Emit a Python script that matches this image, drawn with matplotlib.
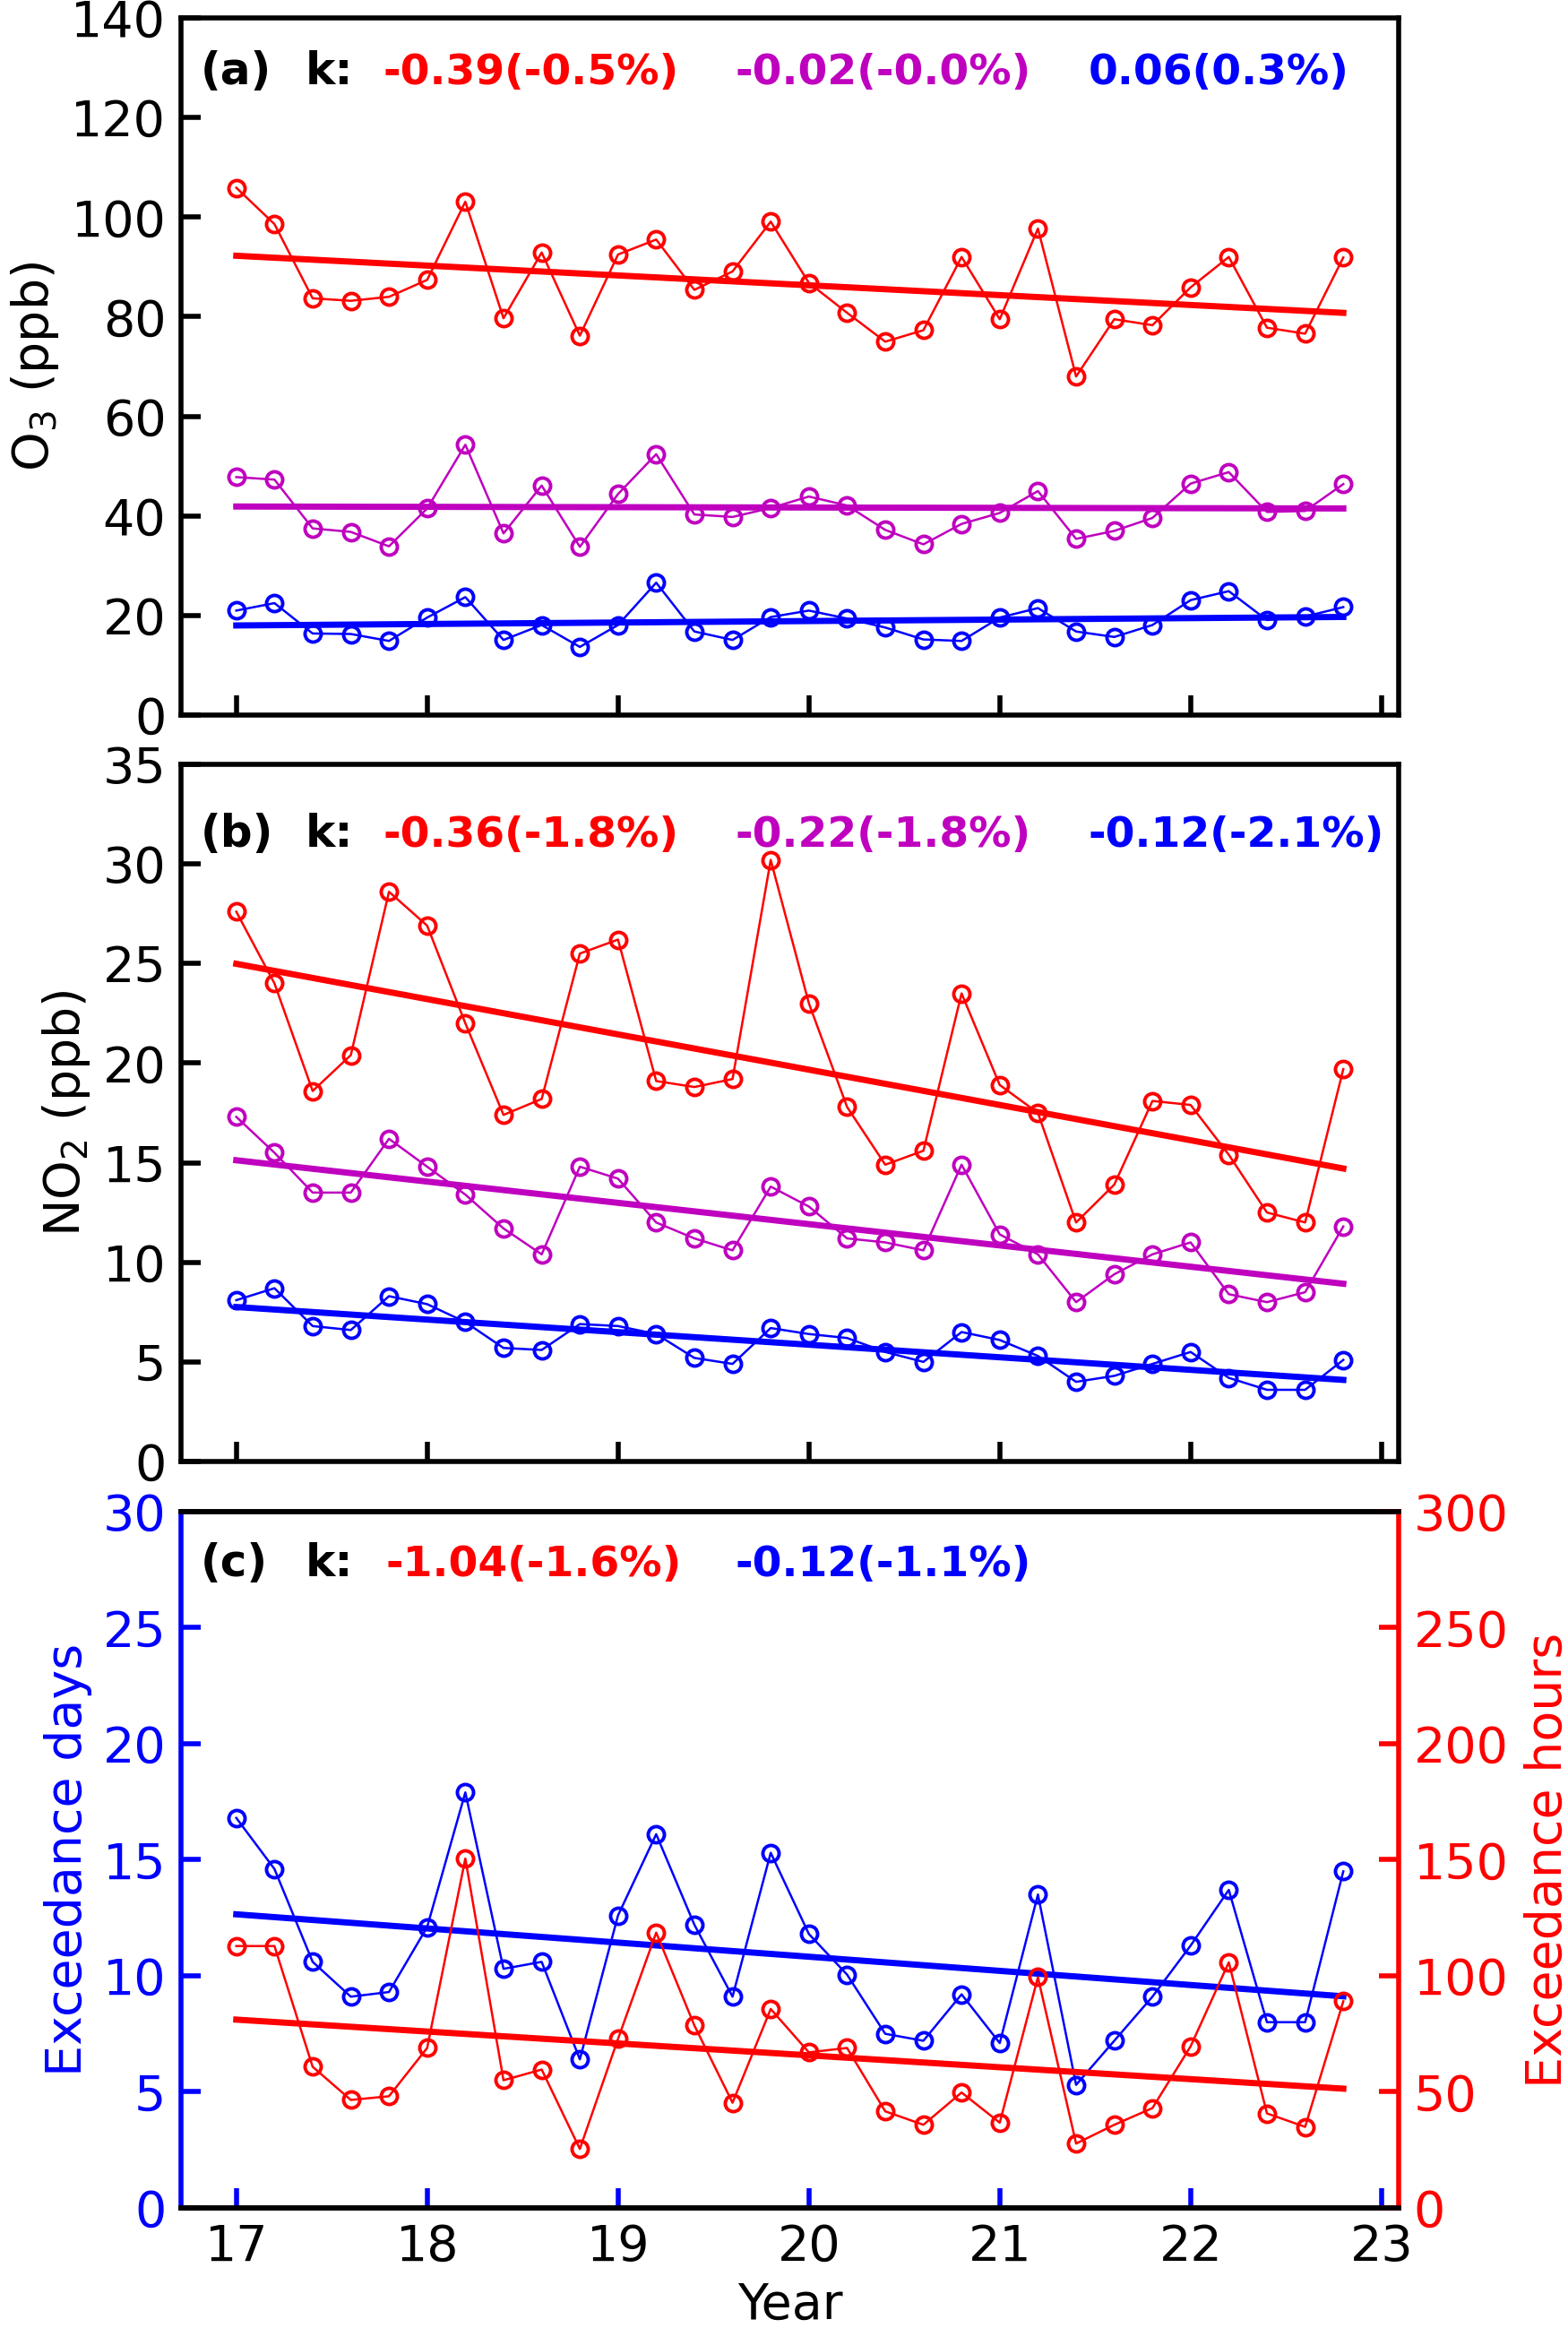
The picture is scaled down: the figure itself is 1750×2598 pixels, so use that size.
import numpy as np
import matplotlib.pyplot as plt

# seasons 17.0 ... 22.8 (30 points)
years = np.round(np.arange(17.0, 22.81, 0.2), 1)

o3_red = [105.9, 98.6, 83.7, 83.2, 84.0, 87.4, 103.1, 79.7, 92.9, 76.2,
          92.5, 95.5, 85.4, 89.1, 99.1, 86.8, 80.8, 75.0, 77.3, 92.0,
          79.5, 97.7, 68.0, 79.5, 78.3, 85.9, 92.0, 77.8, 76.6, 91.9]
o3_mag = [47.8, 47.3, 37.5, 36.8, 33.9, 41.5, 54.3, 36.5, 46.1, 33.8,
          44.4, 52.4, 40.3, 39.8, 41.6, 43.9, 42.1, 37.2, 34.3, 38.4,
          40.6, 45.0, 35.4, 37.0, 39.6, 46.5, 48.8, 40.8, 41.0, 46.4]
o3_blue = [21.0, 22.5, 16.4, 16.3, 14.9, 19.6, 23.7, 15.1, 18.1, 13.7,
           18.1, 26.6, 16.8, 15.1, 19.7, 21.0, 19.4, 17.6, 15.2, 14.9,
           19.6, 21.5, 16.8, 15.7, 18.1, 23.1, 24.9, 19.1, 19.8, 21.7]

no2_red = [27.6, 24.0, 18.6, 20.4, 28.6, 26.9, 22.0, 17.4, 18.2, 25.5,
           26.2, 19.1, 18.8, 19.2, 30.2, 23.0, 17.8, 14.9, 15.6, 23.5,
           18.9, 17.5, 12.0, 13.9, 18.1, 17.9, 15.4, 12.5, 12.0, 19.7]
no2_mag = [17.3, 15.5, 13.5, 13.5, 16.2, 14.8, 13.4, 11.7, 10.4, 14.8,
           14.2, 12.0, 11.2, 10.6, 13.8, 12.8, 11.2, 11.0, 10.6, 14.9,
           11.4, 10.4, 8.0, 9.4, 10.4, 11.0, 8.4, 8.0, 8.5, 11.8]
no2_blue = [8.1, 8.7, 6.8, 6.6, 8.3, 7.9, 7.0, 5.7, 5.6, 6.9,
            6.8, 6.4, 5.2, 4.9, 6.7, 6.4, 6.2, 5.5, 5.0, 6.5,
            6.1, 5.3, 4.0, 4.3, 4.9, 5.5, 4.2, 3.6, 3.6, 5.1]

exc_days = [16.8, 14.6, 10.6, 9.1, 9.3, 12.1, 17.9, 10.3, 10.6, 6.4,
            12.6, 16.1, 12.2, 9.1, 15.3, 11.8, 10.05, 7.5, 7.2, 9.2,
            7.1, 13.5, 5.3, 7.2, 9.1, 11.3, 13.7, 8.0, 8.0, 14.5]
exc_hours = [112.8, 112.8, 60.8, 46.5, 48.1, 68.9, 150.5, 55.0, 59.6, 25.4,
             72.8, 118.6, 78.6, 45.3, 85.7, 67.0, 68.9, 41.6, 35.8, 49.7,
             36.7, 99.4, 27.7, 35.8, 43.0, 69.6, 105.8, 40.7, 34.9, 89.0]

k_a = ['-0.39(-0.5%)', '-0.02(-0.0%)', '0.06(0.3%)']
k_b = ['-0.36(-1.8%)', '-0.22(-1.8%)', '-0.12(-2.1%)']
k_c = ['-1.04(-1.6%)', '-0.12(-1.1%)']

RED = '#ff0000'
MAG = '#bf00bf'
BLUE = '#0000ff'

FS = 20
KFS = 17


def plot_series(ax, y, color):
    y = np.array(y)
    ax.plot(years, y, '-o', color=color, lw=0.9, ms=6.5, mfc='none', mew=1.4)
    a, b = np.polyfit(years, y, 1)
    xs = np.array([years[0], years[-1]])
    ax.plot(xs, a * xs + b, '-', color=color, lw=2.5)


def style_axes(ax):
    for s in ax.spines.values():
        s.set_linewidth(2.0)
    ax.tick_params(direction='in', length=8, width=2, labelsize=FS, pad=6)
    ax.set_xlim(16.71, 23.09)
    ax.set_xticks([17, 18, 19, 20, 21, 22, 23])


def k_text(ax, tag, ypos, labels, colors, xpos):
    ax.text(0.016, ypos, tag, transform=ax.transAxes, fontsize=KFS + 1,
            fontweight='bold', color='black', va='baseline')
    ax.text(0.102, ypos, 'k:', transform=ax.transAxes, fontsize=KFS + 1,
            fontweight='bold', color='black', va='baseline')
    for lab, c, xp in zip(labels, colors, xpos):
        ax.text(xp, ypos, lab, transform=ax.transAxes, fontsize=KFS,
                fontweight='bold', color=c, va='baseline')


fig = plt.figure(figsize=(8.75, 12.99), dpi=200)
left, width = 0.1154, 0.7766
ax1 = fig.add_axes([left, 0.6928, width, 0.2995])
ax2 = fig.add_axes([left, 0.3722, width, 0.2995])
ax3 = fig.add_axes([left, 0.0516, width, 0.2991])

# (a) O3
for y, c in [(o3_red, RED), (o3_mag, MAG), (o3_blue, BLUE)]:
    plot_series(ax1, y, c)
style_axes(ax1)
ax1.set_ylim(0, 140)
ax1.set_yticks(range(0, 141, 20))
ax1.tick_params(axis='x', labelbottom=False)
ax1.set_ylabel('O$_3$ (ppb)', fontsize=FS)
k_text(ax1, '(a)', 0.905, k_a, [RED, MAG, BLUE], [0.166, 0.455, 0.745])

# (b) NO2
for y, c in [(no2_red, RED), (no2_mag, MAG), (no2_blue, BLUE)]:
    plot_series(ax2, y, c)
style_axes(ax2)
ax2.set_ylim(0, 35)
ax2.set_yticks(range(0, 36, 5))
ax2.tick_params(axis='x', labelbottom=False)
ax2.set_ylabel('NO$_2$ (ppb)', fontsize=FS)
k_text(ax2, '(b)', 0.882, k_b, [RED, MAG, BLUE], [0.166, 0.455, 0.745])

# (c) exceedances
ax3r = ax3.twinx()
plot_series(ax3, exc_days, BLUE)
plot_series(ax3r, exc_hours, RED)
style_axes(ax3)
style_axes(ax3r)
ax3.set_ylim(0, 30)
ax3.set_yticks(range(0, 31, 5))
ax3r.set_ylim(0, 300)
ax3r.set_yticks(range(0, 301, 50))
ax3.spines['left'].set_color(BLUE)
ax3.spines['right'].set_visible(False)
ax3r.spines['left'].set_visible(False)
ax3r.spines['right'].set_color(RED)
ax3.tick_params(axis='y', colors=BLUE)
ax3.tick_params(axis='x', color=BLUE, labelcolor='black')
ax3r.tick_params(axis='y', colors=RED)
ax3.set_ylabel('Exceedance days', fontsize=FS, color=BLUE)
ax3r.set_ylabel('Exceedance hours', fontsize=FS, color=RED, labelpad=6)
ax3.set_xlabel('Year', fontsize=FS, labelpad=4)
k_text(ax3, '(c)', 0.907, k_c, [RED, BLUE], [0.168, 0.455])

fig.savefig('out.png', dpi=200)
